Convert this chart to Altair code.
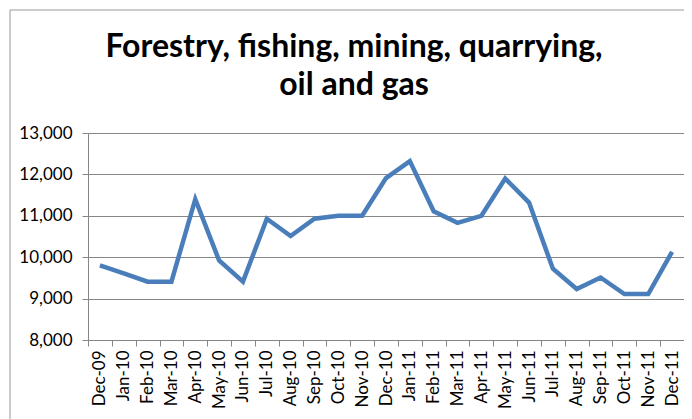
import altair as alt
import pandas as pd

months = ["Dec-09", "Jan-10", "Feb-10", "Mar-10", "Apr-10", "May-10", "Jun-10",
          "Jul-10", "Aug-10", "Sep-10", "Oct-10", "Nov-10", "Dec-10", "Jan-11",
          "Feb-11", "Mar-11", "Apr-11", "May-11", "Jun-11", "Jul-11", "Aug-11",
          "Sep-11", "Oct-11", "Nov-11", "Dec-11"]
values = [9800, 9610, 9410, 9410, 11400, 9920, 9410, 10930, 10510, 10930, 11000,
          11000, 11910, 12320, 11110, 10830, 11000, 11900, 11320, 9720, 9230,
          9510, 9110, 9110, 10130]
y_ticks = [8000, 9000, 10000, 11000, 12000, 13000]
title_lines = ["Forestry, fishing, mining, quarrying,", "oil and gas"]

df = pd.DataFrame({"month": months, "value": values})

grey = "#868686"

line = alt.Chart(df).mark_line(color="#4A7EBB", strokeWidth=4.5).encode(
    x=alt.X("month:N", sort=months,
            scale=alt.Scale(type="band", paddingInner=0, paddingOuter=0),
            axis=alt.Axis(title=None, labelAngle=-90, tickBand="extent",
                          labelFont="Lato", labelFontSize=17, labelColor="black",
                          labelPadding=4, tickSize=6, tickColor=grey,
                          domainColor=grey, grid=False)),
    y=alt.Y("value:Q",
            scale=alt.Scale(domain=[8000, 13000], nice=False, zero=False),
            axis=alt.Axis(title=None, values=y_ticks, format=",.0f",
                          labelFont="Lato", labelFontSize=17, labelColor="black",
                          labelPadding=10, tickSize=6, tickColor=grey,
                          domainColor=grey, gridColor=grey, gridOpacity=1)),
)

one = pd.DataFrame({"a": [0]})

border = alt.Chart(one).mark_rect(
    fill=None, stroke="#999999", strokeWidth=1
).encode(x=alt.value(-78), x2=alt.value(720), y=alt.value(-123), y2=alt.value(400))

title = alt.Chart(one).mark_text(
    font="Lato", fontSize=32, fontWeight="bold", color="black",
    align="center", baseline="alphabetic", lineHeight=38
).encode(x=alt.value(266), y=alt.value(-76), text=alt.value(title_lines))

chart = alt.layer(border, title, line).properties(
    width=596, height=207,
    padding={"left": 80, "top": 125, "right": 0, "bottom": 79},
    autosize=alt.AutoSizeParams(type="none"),
).configure_view(stroke=None)

chart.save("out.html", embed_options={"renderer": "svg", "actions": False})
